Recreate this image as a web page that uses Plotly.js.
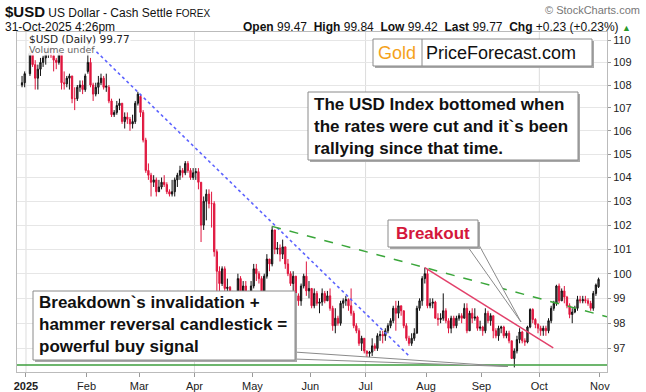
<!DOCTYPE html>
<html><head><meta charset="utf-8">
<script src="https://cdn.plot.ly/plotly-3.0.1.min.js"></script>
<style>html,body{margin:0;padding:0;background:#fff}#chart{width:646px;height:392px}</style>
</head><body><div id="chart"></div>
<script>
// ---- data ----
const dates = [
 '2024-12-30','2024-12-31',
 '2025-01-02','2025-01-03','2025-01-06','2025-01-07','2025-01-08','2025-01-09','2025-01-10','2025-01-13','2025-01-14','2025-01-15','2025-01-16','2025-01-17','2025-01-20','2025-01-21','2025-01-22','2025-01-23','2025-01-24','2025-01-27','2025-01-28','2025-01-29','2025-01-30','2025-01-31',
 '2025-02-03','2025-02-04','2025-02-05','2025-02-06','2025-02-07','2025-02-10','2025-02-11','2025-02-12','2025-02-13','2025-02-14','2025-02-17','2025-02-18','2025-02-19','2025-02-20','2025-02-21','2025-02-24','2025-02-25','2025-02-26','2025-02-27','2025-02-28',
 '2025-03-03','2025-03-04','2025-03-05','2025-03-06','2025-03-07','2025-03-10','2025-03-11','2025-03-12','2025-03-13','2025-03-14','2025-03-17','2025-03-18','2025-03-19','2025-03-20','2025-03-21','2025-03-24','2025-03-25','2025-03-26','2025-03-27','2025-03-28','2025-03-31',
 '2025-04-01','2025-04-02','2025-04-03','2025-04-04','2025-04-07','2025-04-08','2025-04-09','2025-04-10','2025-04-11','2025-04-14','2025-04-15','2025-04-16','2025-04-17','2025-04-18','2025-04-21','2025-04-22','2025-04-23','2025-04-24','2025-04-25','2025-04-28','2025-04-29','2025-04-30',
 '2025-05-01','2025-05-02','2025-05-05','2025-05-06','2025-05-07','2025-05-08','2025-05-09','2025-05-12','2025-05-13','2025-05-14','2025-05-15','2025-05-16','2025-05-19','2025-05-20','2025-05-21','2025-05-22','2025-05-23','2025-05-26','2025-05-27','2025-05-28','2025-05-29','2025-05-30',
 '2025-06-02','2025-06-03','2025-06-04','2025-06-05','2025-06-06','2025-06-09','2025-06-10','2025-06-11','2025-06-12','2025-06-13','2025-06-16','2025-06-17','2025-06-18','2025-06-19','2025-06-20','2025-06-23','2025-06-24','2025-06-25','2025-06-26','2025-06-27','2025-06-30',
 '2025-07-01','2025-07-02','2025-07-03','2025-07-04','2025-07-07','2025-07-08','2025-07-09','2025-07-10','2025-07-11','2025-07-14','2025-07-15','2025-07-16','2025-07-17','2025-07-18','2025-07-21','2025-07-22','2025-07-23','2025-07-24','2025-07-25','2025-07-28','2025-07-29','2025-07-30','2025-07-31',
 '2025-08-01','2025-08-04','2025-08-05','2025-08-06','2025-08-07','2025-08-08','2025-08-11','2025-08-12','2025-08-13','2025-08-14','2025-08-15','2025-08-18','2025-08-19','2025-08-20','2025-08-21','2025-08-22','2025-08-25','2025-08-26','2025-08-27','2025-08-28','2025-08-29',
 '2025-09-01','2025-09-02','2025-09-03','2025-09-04','2025-09-05','2025-09-08','2025-09-09','2025-09-10','2025-09-11','2025-09-12','2025-09-15','2025-09-16','2025-09-17','2025-09-18','2025-09-19','2025-09-22','2025-09-23','2025-09-24','2025-09-25','2025-09-26','2025-09-29','2025-09-30',
 '2025-10-01','2025-10-02','2025-10-03','2025-10-06','2025-10-07','2025-10-08','2025-10-09','2025-10-10','2025-10-13','2025-10-14','2025-10-15','2025-10-16','2025-10-17','2025-10-20','2025-10-21','2025-10-22','2025-10-23','2025-10-24','2025-10-27','2025-10-28','2025-10-29','2025-10-30','2025-10-31'
];
const open = [
 108.0,108.1,
 108.5,109.4,108.9,108.3,108.7,109.0,109.2,109.5,109.6,109.3,109.1,109.0,109.4,108.1,108.05,108.3,108.4,107.4,107.4,107.9,108.0,107.8,
 108.6,109.0,108.0,107.6,107.9,108.1,108.3,107.9,107.9,107.3,106.7,106.8,107.1,107.2,106.4,106.6,106.5,106.3,106.4,107.2,
 107.5,106.8,105.6,104.3,104.1,103.8,103.9,103.4,103.6,103.8,103.7,103.4,103.3,103.4,103.9,104.1,104.3,104.2,104.6,104.3,104.0,
 104.2,104.25,103.8,102.0,103.0,103.3,102.9,102.9,100.9,100.1,99.6,100.2,99.4,99.45,99.2,98.3,98.9,99.8,99.3,99.5,99.0,99.2,
 99.5,100.2,100.0,99.8,99.2,99.9,100.6,100.4,101.8,101.0,101.05,100.8,101.1,100.4,100.0,99.6,99.9,99.1,98.9,99.5,99.9,99.3,
 99.4,98.7,99.2,98.8,98.85,99.2,98.9,99.1,98.6,97.9,98.2,98.0,98.8,98.9,98.95,98.7,98.4,97.9,97.7,97.2,97.4,
 96.9,96.8,96.85,97.1,97.0,97.5,97.55,97.5,97.7,97.9,98.1,98.6,98.4,98.7,98.5,97.9,97.4,97.2,97.4,97.6,98.6,98.9,99.8,
 100.0,98.7,98.8,98.85,98.2,98.15,98.2,98.5,98.1,97.8,98.2,97.9,98.2,98.3,98.2,98.6,97.7,98.4,98.2,98.25,97.8,
 97.85,97.7,98.4,98.1,98.3,97.7,97.5,97.8,97.85,97.5,97.6,97.3,96.6,96.9,97.35,97.65,97.3,97.25,97.85,98.55,98.15,97.95,
 97.8,97.7,97.8,97.7,98.1,98.6,98.8,99.5,98.9,99.3,99.05,98.7,98.35,98.45,98.6,98.95,98.9,98.95,98.9,98.8,98.6,99.2,99.47
];
const high = [
 108.4,108.6,
 109.5,109.5,109.1,108.9,109.2,109.3,109.65,109.75,109.7,109.5,109.2,109.5,109.5,108.6,108.4,108.5,108.4,107.9,108.0,108.2,108.2,108.5,
 109.9,109.2,108.1,108.1,108.4,108.5,108.4,108.5,108.0,107.4,106.9,107.3,107.4,107.2,106.8,106.8,106.6,106.7,107.3,107.7,
 107.6,106.9,105.7,104.6,104.2,104.1,104.0,103.9,104.0,104.1,103.8,103.5,103.9,104.0,104.2,104.5,104.4,104.7,104.7,104.4,104.4,
 104.4,104.4,103.8,103.2,103.5,103.5,103.4,103.0,101.0,100.3,100.3,100.3,99.8,99.5,99.3,99.0,100.0,99.9,99.7,99.7,99.3,99.7,
 100.4,100.4,100.1,99.9,100.0,100.8,100.6,101.95,101.8,101.3,101.2,101.4,101.1,100.6,100.1,100.1,99.9,99.2,99.6,100.0,100.5,99.7,
 99.4,99.4,99.3,99.0,99.4,99.3,99.3,99.4,98.7,98.6,98.3,98.9,99.0,99.1,99.0,99.4,98.5,98.0,97.8,97.5,97.4,
 96.9,96.9,97.4,97.2,97.6,97.7,97.7,97.8,98.0,98.2,98.7,98.9,98.9,98.7,98.5,98.0,97.5,97.6,97.8,98.7,99.0,99.9,100.25,
 100.2,99.0,99.0,98.9,98.4,98.4,99.2,98.6,98.2,98.3,98.3,98.3,98.4,98.4,98.8,98.8,98.5,98.6,98.6,98.3,98.1,
 97.9,98.6,98.5,98.4,98.3,97.8,97.9,97.9,97.9,97.7,97.7,97.3,97.0,97.5,97.8,97.7,97.4,97.9,98.6,98.6,98.2,98.0,
 97.9,97.9,97.9,98.2,98.7,98.9,99.55,99.6,99.4,99.5,99.1,98.8,98.6,98.7,99.1,99.1,99.1,99.1,99.0,98.9,99.3,99.6,99.84
];
const low = [
 107.9,107.9,
 108.4,108.8,107.8,107.8,108.4,108.8,108.9,109.2,109.2,108.6,108.7,108.9,107.8,107.8,107.9,107.8,107.2,106.9,107.3,107.7,107.6,107.7,
 108.5,107.9,107.3,107.5,107.6,108.0,107.8,107.7,107.2,106.6,106.6,106.7,106.9,106.3,106.1,106.3,106.0,106.1,106.3,107.1,
 106.6,105.5,104.2,103.9,103.2,103.6,103.2,103.4,103.5,103.6,103.3,103.2,103.2,103.2,103.6,103.9,104.0,104.1,104.2,103.9,103.9,
 103.9,103.5,101.3,101.8,102.2,102.7,101.9,100.7,99.0,99.2,99.5,99.3,99.2,99.1,97.9,98.0,98.9,99.1,99.1,98.9,98.8,98.9,
 99.4,99.7,99.6,99.2,99.1,99.8,100.1,100.3,100.8,100.8,100.5,100.6,100.2,99.9,99.5,99.3,99.0,98.7,98.7,99.4,99.1,99.0,
 98.6,98.6,98.7,98.4,98.7,98.8,98.9,98.5,97.7,97.6,97.9,97.9,98.6,98.7,98.5,98.3,97.8,97.6,97.1,96.9,96.8,
 96.5,96.6,96.7,96.9,96.9,97.3,97.2,97.3,97.6,97.8,98.0,97.7,98.2,98.3,97.8,97.3,97.1,97.1,97.3,97.6,98.5,98.7,99.6,
 98.6,98.6,98.6,98.2,97.9,98.0,98.1,98.0,97.6,97.6,97.8,97.8,98.1,98.0,98.2,97.6,97.7,98.0,98.1,97.7,97.7,
 97.5,97.6,98.0,97.9,97.4,97.4,97.3,97.6,97.4,97.4,97.2,96.6,96.25,96.8,97.2,97.2,97.1,97.2,97.8,98.0,97.8,97.6,
 97.5,97.5,97.5,97.6,98.0,98.5,98.7,98.8,98.9,98.8,98.6,98.2,98.0,98.4,98.5,98.8,98.8,98.8,98.7,98.5,98.5,99.1,99.42
];
const close = [
 108.1,108.5,
 109.4,108.9,108.3,108.7,109.0,109.2,109.5,109.6,109.3,109.1,109.0,109.4,108.1,108.05,108.3,108.4,107.4,107.4,107.9,108.0,107.8,108.4,
 109.0,108.0,107.6,107.9,108.1,108.3,107.9,107.95,107.3,106.7,106.8,107.1,107.2,106.4,106.6,106.5,106.3,106.4,107.2,107.6,
 106.8,105.6,104.3,104.1,103.8,103.9,103.4,103.6,103.8,103.7,103.4,103.3,103.4,103.9,104.1,104.3,104.2,104.6,104.3,104.0,104.2,
 104.25,103.8,102.0,103.0,103.3,102.9,102.9,100.9,100.1,99.6,100.2,99.4,99.45,99.2,98.3,98.9,99.8,99.3,99.5,99.0,99.2,99.5,
 100.2,100.0,99.8,99.2,99.9,100.6,100.4,101.8,101.0,101.05,100.8,101.1,100.4,100.0,99.6,99.9,99.1,98.9,99.5,99.9,99.3,99.4,
 98.7,99.2,98.8,98.85,99.2,98.9,99.1,98.6,97.9,98.2,98.0,98.8,98.9,98.95,98.7,98.4,97.9,97.7,97.2,97.4,96.9,
 96.8,96.85,97.1,97.0,97.5,97.55,97.5,97.7,97.9,98.1,98.6,98.4,98.7,98.5,97.9,97.4,97.2,97.4,97.6,98.6,98.9,99.8,100.0,
 98.7,98.8,98.85,98.2,98.15,98.2,98.5,98.1,97.8,98.2,97.9,98.2,98.3,98.2,98.6,97.7,98.4,98.2,98.25,97.8,97.85,
 97.7,98.4,98.1,98.3,97.7,97.5,97.8,97.85,97.5,97.6,97.3,96.6,96.9,97.35,97.65,97.3,97.25,97.85,98.55,98.15,97.95,97.8,
 97.7,97.8,97.7,98.1,98.6,98.8,99.5,98.9,99.3,99.05,98.7,98.35,98.45,98.6,98.95,98.9,98.95,98.9,98.8,98.6,99.2,99.54,99.77
];
const yTicks = [97,98,99,100,101,102,103,104,105,106,107,108,109,110];
const monthTickDates = ['2025-01-01','2025-02-03','2025-03-03','2025-04-01','2025-05-01','2025-06-02','2025-07-01','2025-08-01','2025-09-01','2025-10-01','2025-11-03'];
const monthTickText = ['<b>2025</b>','Feb','Mar','Apr','May','Jun','Jul','Aug','Sep','Oct','Nov'];
const quarterLines = ['2025-01-01','2025-04-01','2025-07-01','2025-10-01'];
// drawn trendlines (anchor points)
const blueTrendX = ['2025-02-03 12:00','2025-07-23 20:00'], blueTrendY = [109.85,96.67];
const greenTrendX = ['2025-05-12 12:00','2025-11-05 17:00'], greenTrendY = [101.95,98.26];
const redTrendX = ['2025-07-31 12:00','2025-10-08 07:00'], redTrendY = [100.25,97.02];
const supportX = ['2024-12-26 14:00','2025-11-05 17:00'], supportY = [96.34,96.34];

const n = dates.length;
if (![open,high,low,close].every(a => a.length === n)) {
  throw new Error('length mismatch ' + [n, open.length, high.length, low.length, close.length].join(','));
}

// ---- layout helpers (pixel -> paper) ----
const PL = 17, PR = 607, PT = 32, PB = 372;
const px = x => (x - PL) / (PR - PL);
const py = y => (PB - y) / (PB - PT);
function rect(x0, y0, x1, y1, fill, line) {
  return {type:'rect', xref:'paper', yref:'paper', x0:px(x0), x1:px(x1), y0:py(y1), y1:py(y0),
          fillcolor:fill, line: line ? {color:line, width:1} : {width:0}, layer:'above'};
}
function path(pts, fill, line) {
  const d = pts.map((p,i) => (i ? 'L' : 'M') + px(p[0]) + ',' + py(p[1])).join(' ') + ' Z';
  return {type:'path', xref:'paper', yref:'paper', path:d, fillcolor:fill, line:{color:line, width:1}, layer:'above'};
}

const FONT = 'Liberation Sans, Arial, sans-serif';
const RED = '#e0163e';

const traces = [
  {type:'candlestick', x: dates.map(d => d + ' 12:00'), open, high, low, close,
   increasing:{line:{color:'#111', width:1}, fillcolor:'#555'},
   decreasing:{line:{color:RED, width:1}, fillcolor:RED},
   whiskerwidth:0, hoverinfo:'skip', showlegend:false},
  {type:'scatter', mode:'lines', x:supportX, y:supportY, line:{color:'#3c9e3c', width:1.5}, hoverinfo:'skip', showlegend:false},
  {type:'scatter', mode:'lines', x:blueTrendX, y:blueTrendY, line:{color:'#5d63ff', width:1.6, dash:'dot'}, hoverinfo:'skip', showlegend:false},
  {type:'scatter', mode:'lines', x:greenTrendX, y:greenTrendY, line:{color:'#3aa63a', width:1.5, dash:'dash'}, hoverinfo:'skip', showlegend:false},
  {type:'scatter', mode:'lines', x:redTrendX, y:redTrendY, line:{color:'#e2406a', width:1.5}, hoverinfo:'skip', showlegend:false}
];

const shapes = [];
quarterLines.forEach(d => shapes.push({type:'line', xref:'x', yref:'paper', x0:d, x1:d, y0:0, y1:1,
  line:{color:'#dcdcdc', width:1}, layer:'below'}));
// highlight of last bar
shapes.push({type:'rect', xref:'x', yref:'y', x0: dates[n-1] + ' 01:00', x1: dates[n-1] + ' 23:00',
  y0: Math.log10(low[n-1] - 0.04), y1: Math.log10(high[n-1] + 0.04), fillcolor:'#ffe800', line:{width:0}, layer:'below'});
// Gold | PriceForecast.com box
shapes.push(rect(375,41,594,68,'#a8a8a8'));
shapes.push(rect(373,39,592,66,'#ffffff','#8a8a8a'));
shapes.push({type:'line', xref:'paper', yref:'paper', x0:px(422), x1:px(422), y0:py(39), y1:py(66), line:{color:'#8a8a8a', width:1}, layer:'above'});
// USD index box
shapes.push(rect(310,94,580,162,'#a8a8a8'));
shapes.push(rect(308,92,578,160,'#ffffff','#8a8a8a'));
// Breakout box + tail
shapes.push(path([[468,247],[521,322],[479,245]],'#ffffff','#8a8a8a'));
shapes.push(rect(390,222,480,249,'#a8a8a8'));
shapes.push(rect(388,220,478,247,'#ffffff','#8a8a8a'));
// Breakdown box + tail
shapes.push(path([[294,352],[508,366.5],[294,359]],'#ffffff','#8a8a8a'));
shapes.push(rect(35,293,297,362,'#a8a8a8'));
shapes.push(rect(33,291,295,360,'#ffffff','#8a8a8a'));

function ann(x, y, text, opts) {
  return Object.assign({xref:'paper', yref:'paper', x:px(x), y:py(y), text, showarrow:false,
    xanchor:'left', yanchor:'middle', align:'left', font:{family:FONT, size:12, color:'#111'}}, opts || {});
}
const annotations = [
  ann(397, 53, 'Gold', {xanchor:'center', font:{family:FONT, size:18, color:'#f5a21b'}}),
  ann(424, 53, 'PriceForecast.com', {font:{family:FONT, size:18, color:'#111'}}),
  ann(312, 126, '<b>The USD Index bottomed when<br>the rates were cut and it`s been<br>rallying since that time.</b>',
      {font:{family:FONT, size:17, color:'#111'}}),
  ann(433, 233.5, '<b>Breakout</b>', {xanchor:'center', font:{family:FONT, size:17, color:'#d4173b'}}),
  ann(37, 324.5, '<b>Breakdown`s invalidation +<br>hammer reversal candlestick =<br>powerful buy signal</b>',
      {font:{family:FONT, size:17, color:'#111'}}),
  ann(28, 38.5, '$USD (Daily) 99.77', {font:{family:'DejaVu Sans, sans-serif', size:10.5, color:'#222'}, bgcolor:'rgba(255,255,255,0.9)', borderpad:0}),
  ann(28, 49, 'Volume undef', {font:{family:'DejaVu Sans, sans-serif', size:9.5, color:'#666'}, bgcolor:'rgba(255,255,255,0.9)', borderpad:0}),
  // header
  ann(3, 12, '<b><span style="font-size:15px">$USD</span></b> US Dollar - Cash Settle <span style="font-size:10px">FOREX</span>',
      {font:{family:FONT, size:12, color:'#111'}}),
  ann(642, 10, '© StockCharts.com', {xanchor:'right', font:{family:FONT, size:11, color:'#777'}}),
  ann(3, 26.5, '31-Oct-2025 4:26pm', {font:{family:FONT, size:12, color:'#111'}}),
  ann(633, 26.5, '<b>Open</b> 99.47  <b>High</b> 99.84  <b>Low</b> 99.42  <b>Last</b> 99.77  <b>Chg</b> +0.23 (+0.23%) <span style="color:#2a9a2a;font-size:9px">▲</span>',
      {xanchor:'right', font:{family:FONT, size:12, color:'#111'}})
];

const layout = {
  width:646, height:392,
  margin:{l:PL, r:646-PR, t:PT, b:392-PB, pad:0},
  paper_bgcolor:'#ffffff', plot_bgcolor:'#ffffff',
  showlegend:false, hovermode:false,
  font:{family:FONT, size:11, color:'#222'},
  xaxis:{type:'date', range:['2024-12-26 14:00','2025-11-05 17:00'],
    rangebreaks:[{bounds:['sat','mon']}], rangeslider:{visible:false},
    tickmode:'array', tickvals:monthTickDates, ticktext:monthTickText,
    showgrid:false, ticks:'outside', ticklen:4, tickcolor:'#999',
    showline:true, linecolor:'#bbbbbb', mirror:true, zeroline:false,
    tickfont:{family:FONT, size:11, color:'#222'}},
  yaxis:{type:'log', side:'right', range:[Math.log10(96.07), Math.log10(110.36)],
    tickmode:'array', tickvals:yTicks, ticktext:yTicks.map(String),
    showgrid:true, gridcolor:'#e6e6e6', ticks:'outside', ticklen:3, tickcolor:'#999',
    showline:true, linecolor:'#bbbbbb', mirror:true, zeroline:false,
    tickfont:{family:FONT, size:11, color:'#222'}},
  shapes, annotations
};

Plotly.newPlot('chart', traces, layout, {staticPlot:true, displayModeBar:false});
</script>
</body></html>
